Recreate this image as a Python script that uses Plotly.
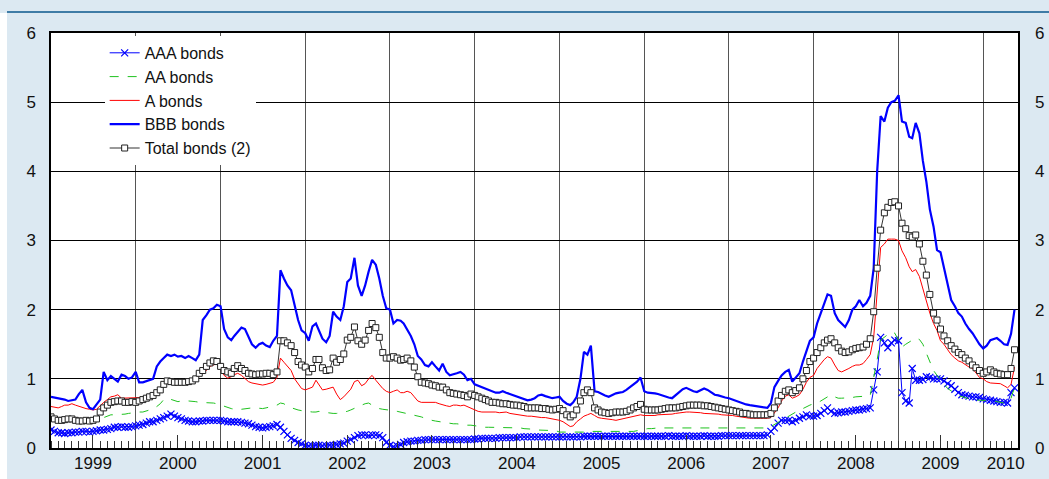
import plotly.graph_objects as go

# Semi-monthly observation dates (1st and 16th), January 1999 to mid-May 2010
dates = [f"{y}-{m:02d}-{d:02d}" for y in range(1999, 2011)
         for m in range(1, 13) for d in (1, 16)][:274]

# Spreads by rating class, percentage points (24 values per year, 10 for 2010)
aaa = [
    0.26, 0.24, 0.22, 0.22, 0.21, 0.22, 0.22, 0.23, 0.23, 0.24, 0.24, 0.23, 0.24, 0.25, 0.26, 0.26, 0.27, 0.28, 0.30, 0.30, 0.31, 0.30, 0.30, 0.31,
    0.32, 0.33, 0.34, 0.36, 0.38, 0.38, 0.40, 0.42, 0.44, 0.46, 0.49, 0.46, 0.44, 0.42, 0.40, 0.39, 0.38, 0.38, 0.39, 0.39, 0.40, 0.40, 0.40, 0.40,
    0.40, 0.39, 0.38, 0.38, 0.38, 0.38, 0.37, 0.36, 0.35, 0.33, 0.31, 0.30, 0.29, 0.30, 0.31, 0.32, 0.34, 0.30, 0.24, 0.19, 0.14, 0.11, 0.08, 0.06,
    0.04, 0.03, 0.03, 0.04, 0.04, 0.03, 0.03, 0.04, 0.04, 0.05, 0.06, 0.07, 0.10, 0.12, 0.15, 0.18, 0.19, 0.19, 0.18, 0.19, 0.19, 0.18, 0.15, 0.08,
    0.04, 0.02, 0.03, 0.05, 0.08, 0.09, 0.10, 0.10, 0.11, 0.11, 0.12, 0.12, 0.12, 0.12, 0.12, 0.12, 0.12, 0.12, 0.12, 0.12, 0.12, 0.12, 0.12, 0.12,
    0.13, 0.13, 0.14, 0.14, 0.14, 0.14, 0.14, 0.15, 0.15, 0.15, 0.15, 0.15, 0.15, 0.16, 0.16, 0.16, 0.16, 0.16, 0.16, 0.16, 0.16, 0.16, 0.16, 0.16,
    0.16, 0.16, 0.16, 0.16, 0.16, 0.16, 0.16, 0.17, 0.17, 0.17, 0.17, 0.17, 0.17, 0.17, 0.17, 0.17, 0.17, 0.17, 0.17, 0.17, 0.17, 0.17, 0.17, 0.17,
    0.17, 0.17, 0.17, 0.17, 0.17, 0.17, 0.17, 0.18, 0.17, 0.17, 0.17, 0.17, 0.18, 0.17, 0.17, 0.17, 0.17, 0.18, 0.17, 0.17, 0.17, 0.17, 0.18, 0.18,
    0.18, 0.18, 0.18, 0.18, 0.18, 0.18, 0.18, 0.18, 0.18, 0.18, 0.18, 0.19, 0.24, 0.29, 0.36, 0.40, 0.40, 0.40, 0.38, 0.40, 0.43, 0.45, 0.48, 0.46,
    0.46, 0.47, 0.50, 0.54, 0.58, 0.53, 0.50, 0.51, 0.52, 0.52, 0.53, 0.54, 0.55, 0.55, 0.56, 0.57, 0.58, 0.84, 1.10, 1.60, 1.52, 1.45, 1.52, 1.56,
    1.55, 0.80, 0.68, 0.65, 1.15, 0.98, 0.98, 0.99, 1.03, 1.02, 1.00, 1.00, 1.00, 0.97, 0.93, 0.90, 0.85, 0.80, 0.77, 0.76, 0.75, 0.74, 0.74, 0.73,
    0.71, 0.70, 0.69, 0.68, 0.67, 0.66, 0.66, 0.65, 0.80, 0.87,
]
aa = [
    0.44, 0.43, 0.42, 0.42, 0.42, 0.41, 0.41, 0.40, 0.40, 0.40, 0.40, 0.39, 0.39, 0.40, 0.42, 0.44, 0.46, 0.48, 0.48, 0.48, 0.48, 0.49, 0.50, 0.51,
    0.52, 0.52, 0.52, 0.53, 0.55, 0.58, 0.60, 0.64, 0.70, 0.72, 0.70, 0.68, 0.67, 0.68, 0.69, 0.68, 0.68, 0.67, 0.66, 0.66, 0.65, 0.65, 0.65, 0.64,
    0.62, 0.60, 0.58, 0.57, 0.56, 0.55, 0.56, 0.57, 0.58, 0.58, 0.58, 0.57, 0.57, 0.58, 0.59, 0.60, 0.62, 0.65, 0.64, 0.60, 0.58, 0.56, 0.55, 0.54,
    0.53, 0.52, 0.52, 0.52, 0.53, 0.52, 0.51, 0.50, 0.50, 0.50, 0.51, 0.52, 0.53, 0.55, 0.57, 0.59, 0.62, 0.64, 0.65, 0.62, 0.59, 0.57, 0.56, 0.55,
    0.55, 0.54, 0.53, 0.52, 0.51, 0.50, 0.49, 0.48, 0.46, 0.45, 0.43, 0.41, 0.40, 0.39, 0.38, 0.37, 0.36, 0.36, 0.35, 0.35, 0.34, 0.34, 0.33, 0.33,
    0.32, 0.31, 0.31, 0.30, 0.30, 0.30, 0.30, 0.30, 0.30, 0.30, 0.30, 0.29, 0.29, 0.29, 0.28, 0.28, 0.27, 0.27, 0.26, 0.26, 0.26, 0.26, 0.25, 0.25,
    0.23, 0.23, 0.22, 0.22, 0.22, 0.22, 0.23, 0.23, 0.24, 0.24, 0.23, 0.23, 0.23, 0.23, 0.23, 0.23, 0.23, 0.23, 0.23, 0.23, 0.24, 0.24, 0.25, 0.26,
    0.27, 0.28, 0.28, 0.29, 0.29, 0.29, 0.29, 0.29, 0.29, 0.29, 0.29, 0.30, 0.30, 0.30, 0.29, 0.29, 0.29, 0.29, 0.29, 0.29, 0.29, 0.29, 0.29, 0.29,
    0.29, 0.29, 0.29, 0.29, 0.29, 0.29, 0.29, 0.29, 0.29, 0.29, 0.29, 0.29, 0.31, 0.34, 0.37, 0.40, 0.44, 0.47, 0.49, 0.52, 0.55, 0.57, 0.60, 0.62,
    0.64, 0.65, 0.68, 0.71, 0.74, 0.77, 0.74, 0.72, 0.72, 0.72, 0.72, 0.73, 0.74, 0.74, 0.74, 0.75, 0.76, 1.00, 1.28, 1.56, 1.60, 1.64, 1.68, 1.66,
    1.55, 1.46, 1.50, 1.53, 1.56, 1.59, 1.57, 1.50, 1.37, 1.25, 1.12, 1.05, 0.98, 0.92, 0.86, 0.82, 0.79, 0.76, 0.74, 0.72, 0.71, 0.70, 0.69, 0.69,
    0.69, 0.69, 0.69, 0.68, 0.67, 0.66, 0.65, 0.66, 0.72, 0.88,
]
a = [
    0.60, 0.59, 0.58, 0.60, 0.62, 0.62, 0.64, 0.62, 0.60, 0.58, 0.57, 0.56, 0.55, 0.56, 0.62, 0.66, 0.70, 0.74, 0.75, 0.77, 0.72, 0.72, 0.72, 0.73,
    0.72, 0.72, 0.73, 0.74, 0.75, 0.76, 0.80, 0.86, 0.92, 0.95, 0.94, 0.93, 0.94, 0.94, 0.95, 0.96, 0.98, 1.00, 1.04, 1.08, 1.12, 1.18, 1.20, 1.22,
    1.15, 1.05, 1.01, 1.03, 1.06, 1.08, 1.05, 1.00, 0.96, 0.94, 0.93, 0.92, 0.91, 0.92, 0.94, 0.95, 1.02, 1.30, 1.24, 1.18, 1.12, 1.00, 0.92, 0.86,
    0.84, 0.86, 0.88, 0.98, 0.92, 0.84, 0.85, 0.87, 0.88, 0.78, 0.70, 0.74, 0.79, 0.85, 0.96, 0.98, 0.90, 0.93, 1.00, 1.05, 0.98, 0.92, 0.86, 0.82,
    0.80, 0.82, 0.84, 0.80, 0.80, 0.82, 0.80, 0.74, 0.68, 0.66, 0.66, 0.65, 0.65, 0.66, 0.64, 0.62, 0.61, 0.60, 0.62, 0.62, 0.61, 0.62, 0.60, 0.57,
    0.55, 0.53, 0.52, 0.52, 0.53, 0.52, 0.52, 0.51, 0.52, 0.52, 0.50, 0.49, 0.48, 0.48, 0.47, 0.46, 0.46, 0.45, 0.45, 0.44, 0.44, 0.43, 0.43, 0.42,
    0.40, 0.38, 0.34, 0.31, 0.32, 0.38, 0.42, 0.46, 0.48, 0.50, 0.47, 0.44, 0.43, 0.42, 0.42, 0.41, 0.40, 0.41, 0.42, 0.43, 0.44, 0.45, 0.47, 0.48,
    0.47, 0.47, 0.46, 0.47, 0.48, 0.48, 0.48, 0.49, 0.49, 0.50, 0.51, 0.52, 0.52, 0.52, 0.52, 0.51, 0.51, 0.50, 0.50, 0.50, 0.49, 0.49, 0.48, 0.48,
    0.48, 0.47, 0.46, 0.45, 0.44, 0.43, 0.43, 0.43, 0.43, 0.42, 0.42, 0.43, 0.44, 0.50, 0.58, 0.68, 0.75, 0.77, 0.72, 0.74, 0.77, 0.85, 0.95, 1.02,
    1.05, 1.15, 1.22, 1.28, 1.32, 1.30, 1.20, 1.12, 1.10, 1.12, 1.15, 1.18, 1.20, 1.20, 1.22, 1.28, 1.35, 1.60, 2.30, 2.90, 2.95, 3.02, 3.02, 3.02,
    3.00, 2.85, 2.75, 2.62, 2.55, 2.58, 2.48, 2.30, 2.12, 1.95, 1.80, 1.70, 1.55, 1.50, 1.42, 1.35, 1.30, 1.26, 1.24, 1.20, 1.17, 1.15, 1.08, 1.02,
    1.00, 0.96, 0.94, 0.94, 0.94, 0.93, 0.90, 0.87, 0.92, 1.17,
]
bbb = [
    0.74, 0.73, 0.72, 0.70, 0.70, 0.68, 0.69, 0.70, 0.78, 0.84, 0.66, 0.58, 0.56, 0.62, 0.70, 1.10, 0.98, 1.04, 1.00, 0.96, 1.06, 1.04, 1.00, 1.02,
    1.10, 0.95, 0.95, 0.97, 0.98, 1.00, 1.18, 1.25, 1.30, 1.35, 1.33, 1.35, 1.32, 1.33, 1.30, 1.33, 1.30, 1.27, 1.35, 1.85, 1.92, 2.00, 2.02, 2.07,
    2.05, 1.72, 1.60, 1.56, 1.62, 1.68, 1.74, 1.72, 1.60, 1.50, 1.45, 1.50, 1.52, 1.48, 1.46, 1.55, 1.62, 2.57, 2.45, 2.35, 2.28, 2.05, 1.85, 1.70,
    1.66, 1.55, 1.76, 1.80, 1.70, 1.58, 1.53, 1.62, 1.97, 1.90, 1.85, 2.05, 2.40, 2.45, 2.75, 2.35, 2.20, 2.35, 2.55, 2.72, 2.65, 2.45, 2.20, 2.02,
    2.00, 1.80, 1.85, 1.84, 1.80, 1.72, 1.62, 1.50, 1.33, 1.28, 1.20, 1.18, 1.24, 1.18, 1.12, 1.22, 1.10, 1.05, 1.06, 1.08, 1.10, 1.06, 0.98, 1.00,
    0.92, 0.90, 0.88, 0.86, 0.84, 0.82, 0.80, 0.80, 0.82, 0.80, 0.78, 0.76, 0.74, 0.72, 0.70, 0.69, 0.70, 0.72, 0.76, 0.77, 0.75, 0.73, 0.72, 0.73,
    0.74, 0.68, 0.64, 0.62, 0.66, 0.74, 1.00, 1.39, 1.35, 1.48, 0.82, 0.81, 0.78, 0.76, 0.74, 0.77, 0.79, 0.80, 0.81, 0.84, 0.88, 0.92, 0.96, 1.02,
    0.82, 0.80, 0.80, 0.79, 0.78, 0.76, 0.74, 0.73, 0.72, 0.76, 0.80, 0.85, 0.87, 0.84, 0.82, 0.81, 0.84, 0.86, 0.84, 0.80, 0.77, 0.76, 0.74, 0.73,
    0.72, 0.70, 0.68, 0.66, 0.65, 0.63, 0.62, 0.61, 0.60, 0.60, 0.59, 0.58, 0.65, 0.88, 0.97, 1.05, 1.10, 1.13, 0.96, 1.02, 1.08, 1.25, 1.40, 1.55,
    1.60, 1.80, 1.95, 2.10, 2.22, 2.20, 1.95, 1.85, 1.80, 1.75, 1.85, 2.00, 2.05, 2.14, 2.05, 2.10, 2.20, 2.60, 4.00, 4.80, 4.72, 4.92, 5.00, 5.02,
    5.10, 4.72, 4.70, 4.50, 4.48, 4.70, 4.55, 4.15, 3.85, 3.45, 3.20, 2.86, 2.83, 2.60, 2.40, 2.14, 2.05, 1.95, 1.90, 1.80, 1.72, 1.66, 1.58, 1.50,
    1.44, 1.48, 1.56, 1.58, 1.59, 1.55, 1.50, 1.49, 1.65, 2.00,
]
total = [
    0.45, 0.42, 0.40, 0.40, 0.41, 0.42, 0.42, 0.40, 0.39, 0.39, 0.40, 0.39, 0.40, 0.42, 0.52, 0.58, 0.62, 0.66, 0.67, 0.68, 0.68, 0.66, 0.66, 0.67,
    0.66, 0.68, 0.70, 0.72, 0.74, 0.76, 0.80, 0.84, 0.92, 0.97, 0.96, 0.95, 0.95, 0.95, 0.95, 0.96, 0.97, 1.00, 1.08, 1.12, 1.18, 1.23, 1.26, 1.25,
    1.18, 1.12, 1.10, 1.08, 1.15, 1.19, 1.15, 1.12, 1.08, 1.07, 1.06, 1.07, 1.07, 1.08, 1.08, 1.06, 1.10, 1.55, 1.55, 1.52, 1.48, 1.38, 1.25, 1.20,
    1.17, 1.10, 1.15, 1.28, 1.28, 1.16, 1.12, 1.13, 1.30, 1.24, 1.28, 1.36, 1.56, 1.60, 1.75, 1.55, 1.50, 1.56, 1.70, 1.80, 1.74, 1.60, 1.38, 1.30,
    1.30, 1.32, 1.30, 1.27, 1.28, 1.30, 1.26, 1.17, 1.03, 0.95, 0.94, 0.93, 0.91, 0.90, 0.88, 0.88, 0.84, 0.80, 0.79, 0.78, 0.77, 0.76, 0.74, 0.78,
    0.76, 0.74, 0.72, 0.70, 0.68, 0.66, 0.66, 0.65, 0.64, 0.64, 0.63, 0.62, 0.62, 0.61, 0.60, 0.58, 0.58, 0.58, 0.58, 0.57, 0.57, 0.56, 0.55, 0.56,
    0.57, 0.54, 0.48, 0.45, 0.48, 0.55, 0.68, 0.80, 0.84, 0.80, 0.58, 0.55, 0.52, 0.51, 0.50, 0.51, 0.52, 0.52, 0.52, 0.53, 0.55, 0.58, 0.60, 0.63,
    0.56, 0.55, 0.55, 0.55, 0.55, 0.56, 0.57, 0.58, 0.58, 0.58, 0.59, 0.60, 0.61, 0.62, 0.62, 0.62, 0.62, 0.61, 0.61, 0.60, 0.59, 0.58, 0.57, 0.56,
    0.55, 0.54, 0.53, 0.52, 0.50, 0.50, 0.49, 0.48, 0.48, 0.48, 0.48, 0.48, 0.50, 0.58, 0.68, 0.76, 0.82, 0.84, 0.80, 0.83, 0.87, 1.00, 1.12, 1.25,
    1.30, 1.38, 1.45, 1.52, 1.56, 1.58, 1.52, 1.45, 1.40, 1.38, 1.39, 1.42, 1.44, 1.45, 1.46, 1.50, 1.58, 1.97, 2.60, 3.15, 3.40, 3.48, 3.55, 3.56,
    3.50, 3.25, 3.17, 3.07, 3.05, 3.08, 2.95, 2.70, 2.50, 2.22, 1.95, 1.85, 1.72, 1.62, 1.55, 1.48, 1.43, 1.38, 1.35, 1.30, 1.26, 1.20, 1.16, 1.12,
    1.08, 1.10, 1.13, 1.10, 1.08, 1.07, 1.06, 1.06, 1.15, 1.42,
]

# Axis annotations
year_labels = [str(y) for y in range(1999, 2011)]
label_pos = [f"{y}-07-01" for y in range(1999, 2010)] + ["2010-04-08"]
year_starts = [f"{y}-01-01" for y in range(2000, 2011)]
mid_years = [f"{y}-07-01" for y in range(1999, 2010)]
month_starts = [f"{y}-{m:02d}-01" for y in range(1999, 2011) for m in range(1, 13)][:137]
x_range = ["1999-01-01", "2010-05-31"]

FONT = "Liberation Sans, Arial, sans-serif"
BG = "#dce9f2"

fig = go.Figure()

fig.add_trace(go.Scatter(
    x=dates, y=aaa, name="AAA bonds", mode="lines+markers",
    line=dict(color="#0000ff", width=1),
    marker=dict(symbol="x-thin", size=7, line=dict(color="#0000ff", width=1.2)),
))
fig.add_trace(go.Scatter(
    x=dates, y=aa, name="AA bonds", mode="lines",
    line=dict(color="#1fc21f", width=1, dash="dash"),
))
fig.add_trace(go.Scatter(
    x=dates, y=a, name="A bonds", mode="lines",
    line=dict(color="#ff0000", width=1),
))
fig.add_trace(go.Scatter(
    x=dates, y=bbb, name="BBB bonds", mode="lines",
    line=dict(color="#0000ff", width=2.2),
))
fig.add_trace(go.Scatter(
    x=dates, y=total, name="Total bonds (2)", mode="lines+markers",
    line=dict(color="#333333", width=1),
    marker=dict(symbol="square", size=6, color="white", line=dict(color="#222222", width=1)),
))

# Empty traces that carry the helper axes (mid-year ticks, year labels, right-hand scale)
for xa, ya in (("x2", "y"), ("x3", "y"), ("x", "y2")):
    fig.add_trace(go.Scatter(x=[], y=[], xaxis=xa, yaxis=ya, showlegend=False, hoverinfo="skip"))

fig.update_layout(
    width=1049, height=479,
    margin=dict(l=51, r=31, t=33, b=31, autoexpand=False),
    paper_bgcolor=BG, plot_bgcolor="white",
    font=dict(family=FONT, size=17, color="#111111"),
    showlegend=True,
    legend=dict(
        x=0.0555, y=0.993, xanchor="left", yanchor="top",
        bgcolor="white", borderwidth=0, font=dict(size=16),
        tracegroupgap=0, itemwidth=30,
    ),
    xaxis=dict(
        type="date", range=x_range, automargin=False,
        tickmode="array", tickvals=year_starts,
        showticklabels=False, ticks="",
        showgrid=True, gridcolor="#555555", gridwidth=1,
        showline=True, mirror=True, linecolor="black", linewidth=1.5,
        minor=dict(tickmode="array", tickvals=month_starts, ticks="inside",
                   ticklen=7, tickwidth=1, tickcolor="#333333", showgrid=False),
    ),
    xaxis2=dict(
        type="date", range=x_range, overlaying="x", anchor="y", automargin=False,
        tickmode="array", tickvals=mid_years, ticks="inside",
        ticklen=13, tickwidth=1, tickcolor="#333333",
        showticklabels=False, showgrid=False, showline=False, zeroline=False,
    ),
    xaxis3=dict(
        type="date", range=x_range, overlaying="x", anchor="y", automargin=False,
        tickmode="array", tickvals=label_pos, ticktext=year_labels,
        ticks="", showgrid=False, showline=False, zeroline=False,
        tickfont=dict(size=17), ticklabelstandoff=3,
    ),
    yaxis=dict(
        range=[0, 6], tickmode="linear", tick0=0, dtick=1, automargin=False,
        showgrid=True, gridcolor="black", gridwidth=1, zeroline=False,
        showline=True, mirror=True, linecolor="black", linewidth=1.5,
        ticks="", tickfont=dict(size=17), ticklabelstandoff=10,
    ),
    yaxis2=dict(
        range=[0, 6], tickmode="linear", tick0=0, dtick=1, automargin=False,
        overlaying="y", side="right", anchor="x",
        showgrid=False, zeroline=False, showline=False,
        ticks="", tickfont=dict(size=17), ticklabelstandoff=16,
    ),
    shapes=[
        # header rule across the top of the panel
        dict(type="line", xref="paper", yref="paper",
             x0=-0.0455, x1=1.04, y0=1.0506, y1=1.0506,
             line=dict(color="#3f7ca6", width=2)),
        # white margin strip on the far left
        dict(type="rect", xref="paper", yref="paper",
             x0=-0.06, x1=-0.0455, y0=-0.08, y1=1.048,
             fillcolor="white", line=dict(width=0), layer="below"),
    ],
)

fig.write_html("out.html")
